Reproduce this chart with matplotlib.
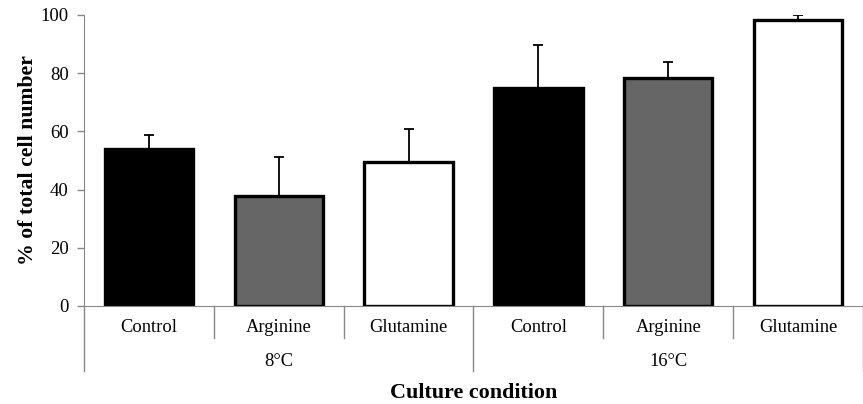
import numpy as np
import matplotlib
matplotlib.use('Agg')
import matplotlib.pyplot as plt

plt.rcParams['font.family'] = ['Liberation Serif', 'DejaVu Serif']

# data
treatments = ['Control', 'Arginine', 'Glutamine', 'Control', 'Arginine', 'Glutamine']
groups = ['8°C', '16°C']
values = [53.8, 37.8, 49.5, 74.8, 78.5, 98.3]
errors = [4.8, 13.4, 11.3, 14.9, 5.5, 1.7]
fills = ['black', '#666666', 'white', 'black', '#666666', 'white']

fig = plt.figure(figsize=(8.63, 4.04), dpi=100)
ax = fig.add_axes([0.0973, 0.2426, 0.9027, 0.7204])

x = np.arange(len(values))
ax.bar(x, values, width=0.68, color=fills, edgecolor='black', linewidth=2.4, zorder=2)
ax.errorbar(x, values, yerr=[np.zeros(len(errors)), errors], fmt='none',
            ecolor='black', elinewidth=1.3, capsize=3.5, capthick=1.3, zorder=1)

ax.set_xlim(-0.5, len(values) - 0.5)
ax.set_ylim(0, 100)
ax.set_yticks([0, 20, 40, 60, 80, 100])
ax.tick_params(axis='y', colors='#888888', labelcolor='black', labelsize=13.5,
               length=5, width=1, pad=6)
ax.set_xticks([])
for s in ['top', 'right']:
    ax.spines[s].set_visible(False)
ax.spines['left'].set_color('#888888')
ax.spines['bottom'].set_color('#888888')
ax.spines['left'].set_bounds(0, 100)

# separators under the axis, in axes coords
tr = ax.get_xaxis_transform()
for i in range(len(values) + 1):
    b = i - 0.5
    if i % 3 == 0:
        y0 = -0.222
    else:
        y0 = -0.11
    ax.plot([b, b], [0, y0], transform=tr, color='#888888', lw=1, clip_on=False)

for i, t in enumerate(treatments):
    ax.text(i, -0.075, t, transform=tr, ha='center', va='center', fontsize=13.3)
for g, name in enumerate(groups):
    ax.text(g * 3 + 1, -0.19, name, transform=tr, ha='center', va='center', fontsize=13.3)

ax.text(2.5, -0.30, 'Culture condition', transform=tr, ha='center', va='center',
        fontsize=15.8, fontweight='bold')
ax.set_ylabel('% of total cell number', fontsize=15.7, fontweight='bold', labelpad=2)

fig.savefig('out.png', dpi=100)
